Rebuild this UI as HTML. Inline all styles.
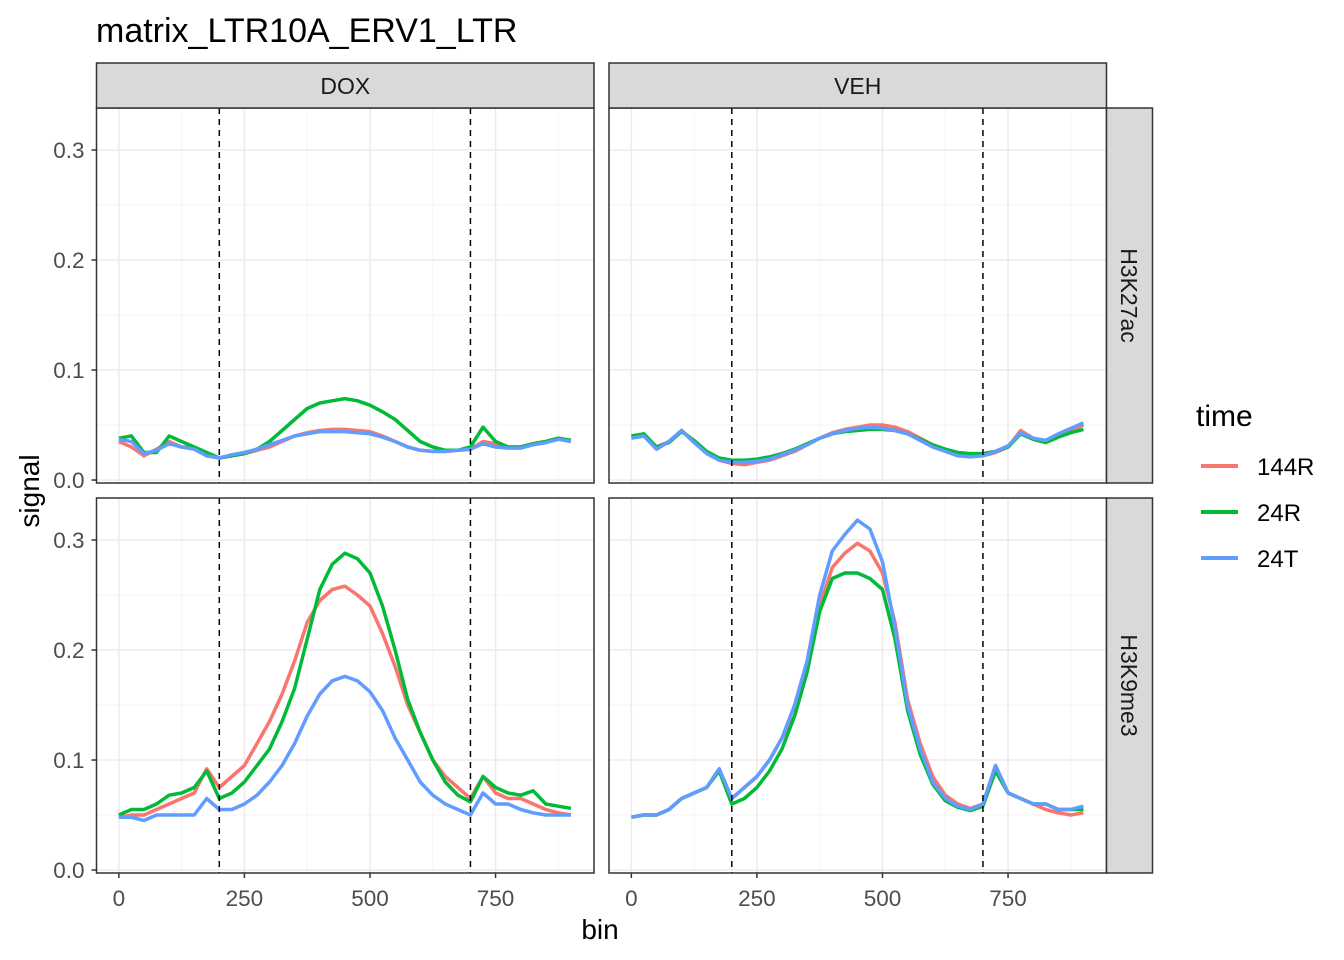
<!DOCTYPE html>
<html><head><meta charset="utf-8"><style>
html,body{margin:0;padding:0;background:#fff;}
svg{display:block;font-family:"Liberation Sans",Arial,sans-serif;}
</style></head><body>
<svg id="chart" width="1344" height="960" viewBox="0 0 1344 960">
<text x="96" y="42" font-size="34" fill="#000">matrix_LTR10A_ERV1_LTR</text>
<text x="600" y="939" font-size="28" text-anchor="middle" fill="#000">bin</text>
<text transform="translate(39,491) rotate(-90)" font-size="28" text-anchor="middle" fill="#000">signal</text>
<g>
<text x="1196" y="426" font-size="30" fill="#000">time</text>
<line x1="1201" x2="1238" y1="466" y2="466" stroke="#F8766D" stroke-width="4"/>
<text x="1257" y="475" font-size="24" fill="#000">144R</text>
<line x1="1201" x2="1238" y1="512" y2="512" stroke="#00BA38" stroke-width="4"/>
<text x="1257" y="521" font-size="24" fill="#000">24R</text>
<line x1="1201" x2="1238" y1="558" y2="558" stroke="#619CFF" stroke-width="4"/>
<text x="1257" y="567" font-size="24" fill="#000">24T</text>
</g>
</svg>
<script>
const bins = [];
for (let b = 0; b <= 900; b += 25) bins.push(b);
const xTicks = [0, 250, 500, 750];
const xTickLabels = ["0", "250", "500", "750"];
const yTicks = [0, 0.1, 0.2, 0.3];
const yTickLabels = ["0.0", "0.1", "0.2", "0.3"];
const colTitles = ["DOX", "VEH"];
const rowTitles = ["H3K27ac", "H3K9me3"];
const seriesNames = ["144R", "24R", "24T"];
const boundaries = [200, 700];

const doxK27_144R = [0.035,0.03,0.022,0.028,0.035,0.03,0.03,0.022,0.02,0.022,0.024,0.027,0.03,0.035,0.04,0.043,0.045,0.046,0.046,0.045,0.044,0.04,0.035,0.03,0.027,0.026,0.026,0.027,0.028,0.035,0.033,0.03,0.03,0.033,0.035,0.038,0.036];
const doxK27_24R  = [0.038,0.04,0.025,0.025,0.04,0.035,0.03,0.025,0.02,0.022,0.024,0.028,0.035,0.045,0.055,0.065,0.07,0.072,0.074,0.072,0.068,0.062,0.055,0.045,0.035,0.03,0.027,0.027,0.03,0.048,0.035,0.03,0.03,0.033,0.035,0.038,0.036];
const doxK27_24T  = [0.037,0.035,0.024,0.027,0.033,0.03,0.028,0.022,0.02,0.023,0.025,0.028,0.032,0.036,0.04,0.042,0.044,0.044,0.044,0.043,0.042,0.039,0.035,0.03,0.027,0.026,0.026,0.027,0.028,0.033,0.03,0.029,0.029,0.032,0.034,0.037,0.035];
const vehK27_144R = [0.04,0.04,0.03,0.035,0.045,0.035,0.025,0.018,0.015,0.014,0.016,0.018,0.022,0.026,0.032,0.038,0.043,0.046,0.048,0.05,0.05,0.048,0.044,0.038,0.032,0.027,0.023,0.022,0.022,0.025,0.03,0.045,0.038,0.035,0.04,0.045,0.05];
const vehK27_24R  = [0.04,0.042,0.03,0.034,0.044,0.036,0.026,0.02,0.018,0.018,0.019,0.021,0.024,0.028,0.033,0.038,0.042,0.044,0.045,0.046,0.046,0.045,0.042,0.037,0.032,0.028,0.025,0.024,0.024,0.026,0.03,0.042,0.037,0.034,0.039,0.043,0.046];
const vehK27_24T  = [0.038,0.04,0.028,0.035,0.045,0.034,0.024,0.018,0.016,0.016,0.017,0.019,0.023,0.027,0.032,0.038,0.042,0.045,0.047,0.048,0.047,0.045,0.042,0.036,0.03,0.026,0.022,0.021,0.022,0.026,0.031,0.043,0.038,0.036,0.042,0.047,0.052];
const doxK9_144R = [0.048,0.05,0.05,0.055,0.06,0.065,0.07,0.092,0.075,0.085,0.095,0.115,0.135,0.16,0.19,0.225,0.245,0.255,0.258,0.25,0.24,0.215,0.185,0.15,0.125,0.1,0.085,0.075,0.065,0.085,0.07,0.065,0.065,0.06,0.055,0.052,0.05];
const doxK9_24R  = [0.05,0.055,0.055,0.06,0.068,0.07,0.075,0.09,0.065,0.07,0.08,0.095,0.11,0.135,0.165,0.21,0.255,0.278,0.288,0.283,0.27,0.24,0.2,0.155,0.125,0.1,0.08,0.068,0.062,0.085,0.075,0.07,0.068,0.072,0.06,0.058,0.056];
const doxK9_24T  = [0.048,0.048,0.045,0.05,0.05,0.05,0.05,0.065,0.055,0.055,0.06,0.068,0.08,0.095,0.115,0.14,0.16,0.172,0.176,0.172,0.162,0.145,0.12,0.1,0.08,0.068,0.06,0.055,0.05,0.07,0.06,0.06,0.055,0.052,0.05,0.05,0.05];
const vehK9_144R = [0.048,0.05,0.05,0.055,0.065,0.07,0.075,0.092,0.065,0.075,0.085,0.1,0.12,0.14,0.18,0.24,0.275,0.288,0.297,0.29,0.27,0.225,0.155,0.115,0.085,0.068,0.06,0.056,0.06,0.095,0.07,0.065,0.06,0.055,0.052,0.05,0.052];
const vehK9_24R  = [0.048,0.05,0.05,0.055,0.065,0.07,0.075,0.09,0.06,0.065,0.075,0.09,0.11,0.14,0.18,0.235,0.265,0.27,0.27,0.265,0.255,0.21,0.145,0.105,0.078,0.063,0.057,0.054,0.058,0.09,0.07,0.065,0.06,0.06,0.055,0.055,0.055];
const vehK9_24T  = [0.048,0.05,0.05,0.055,0.065,0.07,0.075,0.092,0.065,0.075,0.085,0.1,0.12,0.15,0.19,0.25,0.29,0.305,0.318,0.31,0.28,0.22,0.15,0.11,0.08,0.065,0.058,0.055,0.06,0.095,0.07,0.065,0.06,0.06,0.055,0.055,0.058];

const panelData = [
  [[doxK27_144R, doxK27_24R, doxK27_24T], [vehK27_144R, vehK27_24R, vehK27_24T]],
  [[doxK9_144R, doxK9_24R, doxK9_24T], [vehK9_144R, vehK9_24R, vehK9_24T]]
];
const colors = ["#F8766D", "#00BA38", "#619CFF"];

const NS = "http://www.w3.org/2000/svg";
const svg = document.getElementById("chart");
function mk(tag, attrs, parent) {
  const e = document.createElementNS(NS, tag);
  for (const k in attrs) e.setAttribute(k, attrs[k]);
  (parent || svg).appendChild(e);
  return e;
}
const colX = [96.5, 609];
const pw = 497.5;
const rowY = [108, 498];
const ph = 375;
const xMin = -44.5, xMax = 946;
const yMin = -0.0027, yMax = 0.3382;

for (let r = 0; r < 2; r++) {
  for (let c = 0; c < 2; c++) {
    const x0 = colX[c], y0 = rowY[r];
    const sx = v => x0 + (v - xMin) / (xMax - xMin) * pw;
    const sy = v => y0 + ph - (v - yMin) / (yMax - yMin) * ph;
    const g = mk("g", {});
    
    
    const bg = mk("rect", {x: x0, y: y0, width: pw, height: ph, fill: "#fff"}, g);
    
    
    [125, 375, 625, 875].forEach(v => {
      const l = mk("line", {x1: sx(v), x2: sx(v), y1: y0, y2: y0 + ph, stroke: "#F4F4F4", "stroke-width": 1}, g);
      
      
    });
    [0.05, 0.15, 0.25].forEach(v => {
      const l = mk("line", {x1: x0, x2: x0 + pw, y1: sy(v), y2: sy(v), stroke: "#F4F4F4", "stroke-width": 1}, g);
      
      
    });
    xTicks.forEach(v => {
      const l = mk("line", {x1: sx(v), x2: sx(v), y1: y0, y2: y0 + ph, stroke: "#EBEBEB", "stroke-width": 1.5}, g);
      
      
    });
    yTicks.forEach(v => {
      const l = mk("line", {x1: x0, x2: x0 + pw, y1: sy(v), y2: sy(v), stroke: "#EBEBEB", "stroke-width": 1.5}, g);
      
      
    });
    panelData[r][c].forEach((vals, si) => {
      const d = vals.map((v, i) => (i ? "L" : "M") + sx(bins[i]).toFixed(1) + "," + sy(v).toFixed(1)).join("");
      const p = mk("path", {d: d, fill: "none", stroke: colors[si], "stroke-width": 3.5, "stroke-linejoin": "round"}, g);
      
      
    });
    boundaries.forEach(v => {
      const l = mk("line", {x1: sx(v), x2: sx(v), y1: y0, y2: y0 + ph, stroke: "#000", "stroke-width": 1.5, "stroke-dasharray": "6,5"}, g);
      
      
    });
    const border = mk("rect", {x: x0, y: y0, width: pw, height: ph, fill: "none", stroke: "#333", "stroke-width": 1.5}, g);
    
    
    if (r === 0) {
      const s = mk("rect", {x: x0, y: 63, width: pw, height: 45, fill: "#D9D9D9", stroke: "#333", "stroke-width": 1.5});
      
      
      const t = mk("text", {x: x0 + pw / 2, y: 94, "font-size": 23, "text-anchor": "middle", fill: "#1A1A1A"});
      t.textContent = colTitles[c];
      
      
    }
    if (c === 1) {
      const s = mk("rect", {x: 1106.5, y: y0, width: 46, height: ph, fill: "#D9D9D9", stroke: "#333", "stroke-width": 1.5});
      
      
      const t = mk("text", {transform: "translate(1121," + (y0 + ph / 2) + ") rotate(90)", "font-size": 23, "text-anchor": "middle", fill: "#1A1A1A"});
      t.textContent = rowTitles[r];
      
      
    }
    if (c === 0) {
      yTicks.forEach((v, i) => {
        const tk = mk("line", {x1: x0 - 5, x2: x0, y1: sy(v), y2: sy(v), stroke: "#333", "stroke-width": 1.5});
        
        
        const t = mk("text", {x: x0 - 12, y: sy(v) + 8, "font-size": 22.5, "text-anchor": "end", fill: "#4D4D4D"});
        t.textContent = yTickLabels[i];
        
        
      });
    }
    if (r === 1) {
      xTicks.forEach((v, i) => {
        const tk = mk("line", {x1: sx(v), x2: sx(v), y1: y0 + ph, y2: y0 + ph + 5, stroke: "#333", "stroke-width": 1.5});
        
        
        const t = mk("text", {x: sx(v), y: y0 + ph + 33, "font-size": 22.5, "text-anchor": "middle", fill: "#4D4D4D"});
        t.textContent = xTickLabels[i];
        
        
      });
    }
  }
}
</script>
</body></html>
